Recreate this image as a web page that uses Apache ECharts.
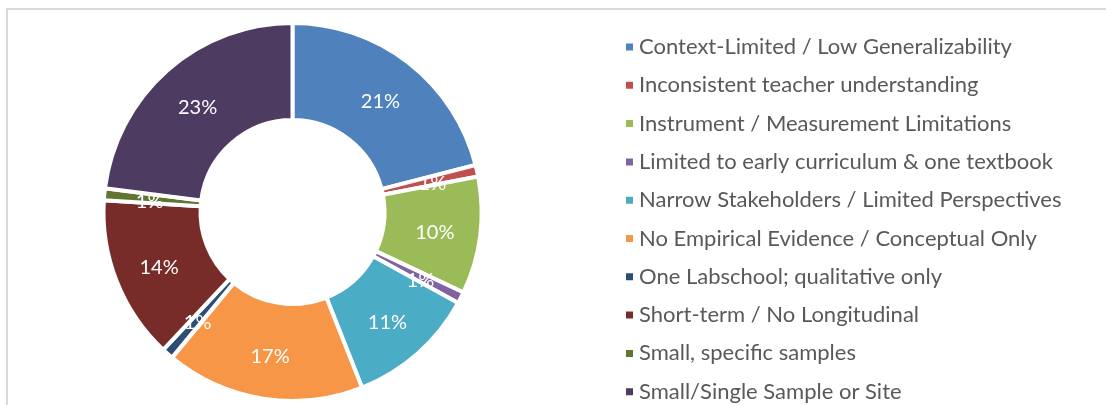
<!DOCTYPE html>
<html>
<head>
<meta charset="utf-8">
<script src="https://cdn.jsdelivr.net/npm/echarts@6/dist/echarts.min.js"></script>
<style>
  html, body { margin: 0; padding: 0; background: #fff; }
  #chartLimits { width: 1106px; height: 405px; }
</style>
</head>
<body>
<div id="chartLimits"></div>
<script>
// 研究局限类别占比
var categories = [
  'Context-Limited / Low Generalizability',
  'Inconsistent teacher understanding',
  'Instrument / Measurement Limitations',
  'Limited to early curriculum & one textbook',
  'Narrow Stakeholders / Limited Perspectives',
  'No Empirical Evidence / Conceptual Only',
  'One Labschool; qualitative only',
  'Short-term / No Longitudinal',
  'Small, specific samples',
  'Small/Single Sample or Site'
];
var shares = [21, 1, 10, 1, 11, 17, 1, 14, 1, 23];
var colors = ['#4F81BD', '#C0504D', '#9BBB59', '#8064A2', '#4BACC6', '#F79646', '#2C4D75', '#772C2A', '#5F7530', '#4D3B62'];

var pieData = [];
for (var i = 0; i < categories.length; i++) {
  pieData.push({ name: categories[i], value: shares[i] });
}

var chartLimits = echarts.init(document.getElementById('chartLimits'));
var option = {
  color: colors,
  animation: false,
  // 外框
  graphic: [{
    type: 'rect',
    shape: { x: 7, y: 9, width: 1120, height: 420 },
    style: { fill: 'none', stroke: '#d9d9d9', lineWidth: 2 },
    silent: true
  }],
  // 图例
  legend: {
    orient: 'vertical',
    left: 619,
    top: 31,
    height: 380,
    icon: 'rect',
    itemWidth: 9,
    itemHeight: 9,
    itemGap: 16.3,
    textStyle: {
      color: '#595959',
      fontSize: 22,
      fontFamily: 'Lato'
    },
    data: categories
  },
  series: [{
    type: 'pie',
    radius: [92, 189],
    center: [292.5, 212],
    startAngle: 90,
    clockwise: true,
    avoidLabelOverlap: false,
    itemStyle: {
      borderColor: '#fff',
      borderWidth: 4
    },
    label: {
      show: true,
      position: 'inside',
      formatter: '{d}%',
      color: '#fff',
      fontSize: 20,
      fontFamily: 'Lato',
      offset: [0, 3]
    },
    labelLine: { show: false },
    data: pieData
  }]
};
chartLimits.setOption(option);
</script>
</body>
</html>
